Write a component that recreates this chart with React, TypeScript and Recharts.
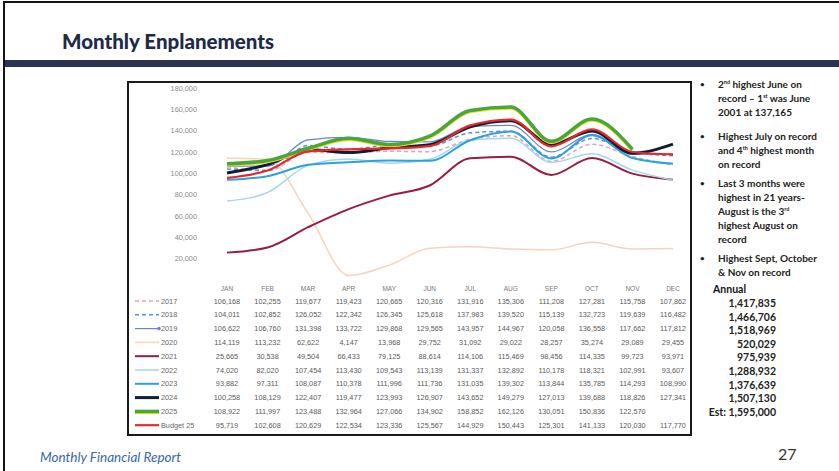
import { LineChart, Line, XAxis, YAxis } from 'recharts'

const months = ['JAN', 'FEB', 'MAR', 'APR', 'MAY', 'JUN', 'JUL', 'AUG', 'SEP', 'OCT', 'NOV', 'DEC']

const y2017 = [106168, 102255, 119677, 119423, 120665, 120316, 131916, 135306, 111208, 127281, 115758, 107862]
const y2018 = [104011, 102852, 126052, 122342, 126345, 125618, 137983, 139520, 115139, 132723, 119639, 116482]
const y2019 = [106622, 106760, 131398, 133722, 129868, 129565, 143957, 144967, 120058, 136558, 117662, 117812]
const y2020 = [114119, 113232, 62622, 4147, 13968, 29752, 31092, 29022, 28257, 35274, 29089, 29455]
const y2021 = [25665, 30538, 49504, 66433, 79125, 88614, 114106, 115469, 98456, 114335, 99723, 93971]
const y2022 = [74020, 82020, 107454, 113430, 109543, 113139, 131337, 132892, 110178, 118321, 102991, 93607]
const y2023 = [93882, 97311, 108087, 110378, 111996, 111736, 131035, 139302, 113844, 135785, 114293, 108990]
const y2024 = [100258, 108129, 122407, 119477, 123993, 126907, 143652, 149279, 127013, 139688, 118826, 127341]
const y2025 = [108922, 111997, 123488, 132964, 127066, 134902, 158852, 162126, 130051, 150836, 122570, null]
const budget25 = [95719, 102608, 120629, 122534, 123336, 125567, 144929, 150443, 125301, 141133, 120030, 117770]

const yTicks = [20000, 40000, 60000, 80000, 100000, 120000, 140000, 160000, 180000]

const annualTotals = ['1,417,835', '1,466,706', '1,518,969', '520,029', '975,939', '1,288,932', '1,376,639', '1,507,130', 'Est: 1,595,000']

type Series = { key: string; name: string; values: (number | null)[]; color: string; width: number; dash?: string; marker?: boolean; shadow?: string }

const series: Series[] = [
  { key: 's2017', name: '2017', values: y2017, color: '#e4a2b2', width: 1.5, dash: '4 3' },
  { key: 's2018', name: '2018', values: y2018, color: '#5b93d0', width: 1.5, dash: '4 3' },
  { key: 's2019', name: '2019', values: y2019, color: '#6d86c2', width: 1.2, marker: true },
  { key: 's2020', name: '2020', values: y2020, color: '#f6d4bc', width: 1.5 },
  { key: 's2021', name: '2021', values: y2021, color: '#9a1c40', width: 2 },
  { key: 's2022', name: '2022', values: y2022, color: '#a3d6f0', width: 1.5 },
  { key: 's2023', name: '2023', values: y2023, color: '#2aa2db', width: 2 },
  { key: 's2024', name: '2024', values: y2024, color: '#101d38', width: 3 },
  { key: 's2025', name: '2025', values: y2025, color: '#4aa63a', width: 3.5, shadow: '#e6e02a' },
  { key: 'sBudget', name: 'Budget 25', values: budget25, color: '#e8262c', width: 2.2 },
]

const data = months.map((m, i) => {
  const row: Record<string, any> = { month: m }
  series.forEach((s) => (row[s.key] = s.values[i]))
  return row
})

const fmt = (v: number) => v.toLocaleString('en-US')

const ROW0 = 21
const ROW_STEP = 13.8

// month label + the data table column underneath it
const TableTick = (props: any) => {
  const { x, y, payload } = props
  const i = payload.index ?? props.index
  return (
    <g>
      <text x={x} y={y + 8} textAnchor='middle' dominantBaseline='central' fontSize={6.5} fill='#777'>
        {payload.value}
      </text>
      {series.map((s, r) => {
        const v = s.values[i]
        if (v == null) return null
        return (
          <text key={s.key} x={x} y={y + ROW0 + r * ROW_STEP} textAnchor='middle' dominantBaseline='central' fontSize={7.3} fill='#5a5a5a'>
            {fmt(v)}
          </text>
        )
      })}
      {i === 0 &&
        series.map((s, r) => {
          const ly = y + ROW0 + r * ROW_STEP
          return (
            <g key={'lg' + s.key}>
              <line x1={x - 92} x2={x - 68} y1={ly} y2={ly} stroke={s.color} strokeWidth={s.width} strokeDasharray={s.dash} style={s.shadow ? { filter: `drop-shadow(0px 1.5px 0px ${s.shadow})` } : undefined} />
              {s.marker && <circle cx={x - 68} cy={ly} r={1.8} fill={s.color} />}
              <text x={x - 66} y={ly} dominantBaseline='central' fontSize={7.3} fill='#666'>
                {s.name}
              </text>
            </g>
          )
        })}
    </g>
  )
}

const bullets = [
  { top: 77, content: <>2<sup>nd</sup> highest June on record – 1<sup>st</sup> was June 2001 at 137,165</> },
  { top: 129, content: <>Highest July on record and 4<sup>th</sup> highest month on record</> },
  { top: 176, content: <>Last 3 months were highest in 21 years- August is the 3<sup>rd</sup> highest August on record</> },
  { top: 251, content: <>Highest Sept, October &amp; Nov on record</> },
]

const supStyle = `.bl sup { font-size: 5.5px; vertical-align: 4px; line-height: 0; }`

export default function App() {
  return (
    <div style={{ position: 'fixed', left: 0, top: 0, width: 839, height: 471, background: '#fff', overflow: 'hidden', fontFamily: 'Lato, "Liberation Sans", sans-serif' }}>
      <style>{supStyle}</style>
      {/* slide frame */}
      <div style={{ position: 'absolute', left: 3, top: 1, width: 840, height: 475, borderLeft: '2.5px solid #151515', borderTop: '2px solid #151515' }} />
      <div style={{ position: 'absolute', left: 62, top: 29, fontSize: 20.5, fontWeight: 900, color: '#1d2a48' }}>Monthly Enplanements</div>
      <div style={{ position: 'absolute', left: 5, top: 60, width: 834, height: 7, background: '#2a3552' }} />

      {/* chart box */}
      <div style={{ position: 'absolute', left: 127, top: 81, width: 561, height: 351, border: '2px solid #1a1a1a', background: '#fff', fontFamily: '"Liberation Sans", Arial, sans-serif' }}>
        <LineChart width={561} height={351} data={data} margin={{ top: 5, right: 0, bottom: 0, left: 0 }}>
          <XAxis dataKey='month' interval={0} axisLine={false} tickLine={false} tickSize={0} tickMargin={0} height={154} padding={{ left: 18, right: 17 }} tick={<TableTick />} />
          <YAxis domain={[0, 180000]} ticks={yTicks} width={80} axisLine={false} tickLine={false} tickMargin={6} tickFormatter={fmt} tick={{ fontSize: 7.3, fill: '#8a8a8a' }} />
          {series.map((s) => (
            <Line
              key={s.key}
              type='monotone'
              dataKey={s.key}
              name={s.name}
              stroke={s.color}
              strokeWidth={s.width}
              strokeDasharray={s.dash}
              dot={false}
              connectNulls={false}
              isAnimationActive={false}
              style={s.shadow ? { filter: `drop-shadow(0px 1.5px 0px ${s.shadow})` } : undefined}
            />
          ))}
        </LineChart>
      </div>

      {/* notes */}
      {bullets.map((b, i) => (
        <div key={i} className='bl' style={{ position: 'absolute', left: 699, top: b.top, width: 120, fontSize: 10, lineHeight: '14px', fontWeight: 700, color: '#222' }}>
          <span style={{ position: 'absolute', left: 1, top: 0, fontSize: 8 }}>•</span>
          <div style={{ marginLeft: 19 }}>{b.content}</div>
        </div>
      ))}
      <div style={{ position: 'absolute', left: 713, top: 283, fontSize: 10.5, fontWeight: 700, color: '#111' }}>Annual</div>
      {annualTotals.map((t, i) => (
        <div key={t} style={{ position: 'absolute', left: 680, top: 296 + i * 13.6, width: 96, textAlign: 'right', fontSize: 10.5, fontWeight: 700, color: '#222', lineHeight: '14px' }}>
          {t}
        </div>
      ))}

      <div style={{ position: 'absolute', left: 40, top: 449, fontSize: 13.5, fontStyle: 'italic', color: '#3a67a8' }}>Monthly Financial Report</div>
      <div style={{ position: 'absolute', left: 778, top: 444, fontSize: 16, color: '#333' }}>27</div>
    </div>
  )
}
